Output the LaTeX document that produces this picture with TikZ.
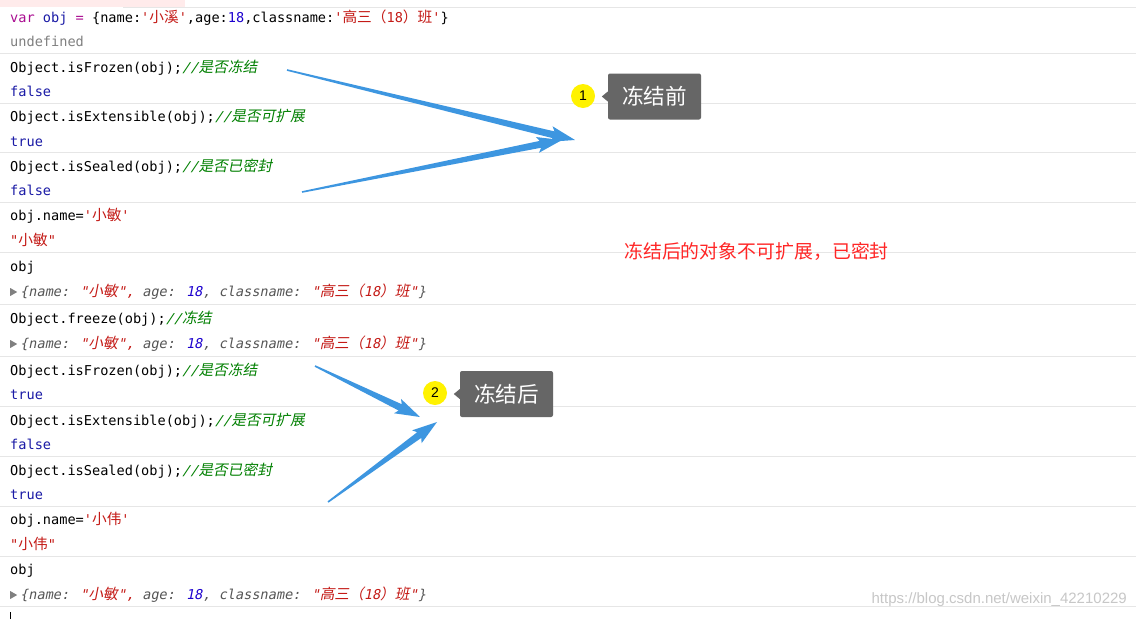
\documentclass[tikz,border=0pt]{standalone}
\usepackage{fontspec}
\setmonofont{DejaVu Sans Mono}[Scale=1.0]
\newfontfamily\cjkf{Noto Sans CJK SC}[Scale=1.08]
\newfontfamily\cjkfi{Noto Sans CJK SC}[FakeSlant=0.2,Scale=1.08]
\newfontfamily\monoi{DejaVu Sans Mono}[Scale=1.0,FakeSlant=0.2]
\newfontfamily\lsans{Liberation Sans}
\usetikzlibrary{calc}
\definecolor{kw}{HTML}{AA0D91}
\definecolor{vb}{HTML}{1A1AA6}
\definecolor{st}{HTML}{C41A16}
\definecolor{nm}{HTML}{1C00CF}
\definecolor{cm}{HTML}{008000}
\definecolor{gr}{HTML}{808080}
\definecolor{pv}{HTML}{555555}
\definecolor{sep}{HTML}{E6E6E6}
\definecolor{ablue}{HTML}{3D96E0}
\definecolor{tipbox}{HTML}{666666}
\newcommand\C[1]{{\cjkf #1}}
\newcommand\CI[1]{{\cjkfi #1}}
\newcommand\cmt[1]{{\color{cm}\monoi //\CI{#1}}}
\newcommand\prev{\tikz[baseline=0pt]\fill[gr] (0,0) -- (0,8pt) -- (7pt,4pt) -- cycle;\hspace{3pt}{\monoi\color{pv}\{name: \color{st}"\CI{小敏}", \color{pv}age: \color{nm}18\color{pv}, classname: \color{st}"\CI{高三（}18\CI{）班}"\color{pv}\}}}
\newcommand\taper[2]{\fill[ablue] let \p1=($(#2)-(#1)$), \n1={atan2(\y1,\x1)}, \n2={veclen(\x1,\y1)} in [shift={(#1)}, rotate=\n1] (0pt,-0.8pt) -- (\n2-22pt,-3.5pt) -- (\n2-25pt,-8pt) -- (\n2,0pt) -- (\n2-25pt,8pt) -- (\n2-22pt,3.5pt) -- (0pt,0.8pt) -- cycle;}
\tikzset{ln/.style={anchor=base west,inner sep=0pt,font=\ttfamily\fontsize{13.6}{14}\selectfont},
 tip/.style={fill=tipbox,rounded corners=2pt,text=white,font=\cjkf\fontsize{20}{22}\selectfont,minimum width=93pt,minimum height=46pt,inner sep=0pt},
 num/.style={circle,fill=yellow,minimum size=24pt,inner sep=0pt,font=\lsans\fontsize{14}{14}\selectfont}}
\begin{document}
\begin{tikzpicture}[x=1pt,y=-1pt]
\useasboundingbox[fill=white] (0,0) rectangle (1136,619);
\fill[red!8] (0,0) rectangle (185,7);
\draw[sep] (123,7) -- (1136,7);
\foreach \y in {53,103,152,202,252,304,356,406,456,506,556,606} \draw[sep] (0,\y) -- (1136,\y);
\node[ln] (l1) at (10,22) {\color{kw}var \color{vb}obj \color{kw}= \color{black}\{name:\color{st}'\C{小溪}'\color{black},age:\color{nm}18\color{black},classname:\color{st}'\C{高三（}18\C{）班}'\color{black}\}};
\node[ln,text=gr] (l2) at (10,46) {undefined};
\node[ln] (l3) at (10,72) {Object.isFrozen(obj);\cmt{是否冻结}};
\node[ln,text=vb] (l4) at (10,96) {false};
\node[ln] (l5) at (10,121) {Object.isExtensible(obj);\cmt{是否可扩展}};
\node[ln,text=vb] (l6) at (10,146) {true};
\node[ln] (l7) at (10,171) {Object.isSealed(obj);\cmt{是否已密封}};
\node[ln,text=vb] (l8) at (10,195) {false};
\node[ln] (l9) at (10,220) {obj.name=\color{st}'\C{小敏}'};
\node[ln,text=st] (l10) at (10,245) {"\C{小敏}"};
\node[ln] (l11) at (10,271) {obj};
\node[ln] (l12) at (10,296) {\prev};
\node[ln] (l13) at (10,323) {Object.freeze(obj);\cmt{冻结}};
\node[ln] (l14) at (10,348) {\prev};
\node[ln] (l15) at (10,375) {Object.isFrozen(obj);\cmt{是否冻结}};
\node[ln,text=vb] (l16) at (10,399) {true};
\node[ln] (l17) at (10,425) {Object.isExtensible(obj);\cmt{是否可扩展}};
\node[ln,text=vb] (l18) at (10,449) {false};
\node[ln] (l19) at (10,475) {Object.isSealed(obj);\cmt{是否已密封}};
\node[ln,text=vb] (l20) at (10,499) {true};
\node[ln] (l21) at (10,524) {obj.name=\color{st}'\C{小伟}'};
\node[ln,text=st] (l22) at (10,549) {"\C{小伟}"};
\node[ln] (l23) at (10,574) {obj};
\node[ln] (l24) at (10,599) {\prev};
\draw (10,612) -- (10,619);
% callouts
\node[num] (n1) at (583,96) {1};
\node[tip] (t1) at (654.5,96.5) {冻结前};
\fill[tipbox] (t1.west) ++(0,-5) -- ++(-6,5) -- ++(6,5) -- cycle;
\node[num] (n2) at (435,393) {2};
\node[tip] (t2) at (506.5,394) {冻结后};
\fill[tipbox] (t2.west) ++(0,-5) -- ++(-6,5) -- ++(6,5) -- cycle;
\node[anchor=west,inner sep=0pt,text=red!85!white,font=\cjkf\fontsize{17.5}{20}\selectfont] (note) at (624,251) {冻结后的对象不可扩展，已密封};
\node[anchor=east,inner sep=0pt,text=black!22,font=\lsans\fontsize{15}{16}\selectfont] (wm) at (1127,600) {https://blog.csdn.net/weixin\_42210229};
% arrows
\coordinate (a1s) at (287,70); \coordinate (a1e) at (575,140);
\coordinate (a2s) at (302,192); \coordinate (a2e) at (562,140);
\coordinate (a3s) at (315,366); \coordinate (a3e) at (420,417);
\coordinate (a4s) at (328,502); \coordinate (a4e) at (437,422);
\taper{a1s}{a1e}
\taper{a2s}{a2e}
\taper{a3s}{a3e}
\taper{a4s}{a4e}
\end{tikzpicture}
\end{document}
